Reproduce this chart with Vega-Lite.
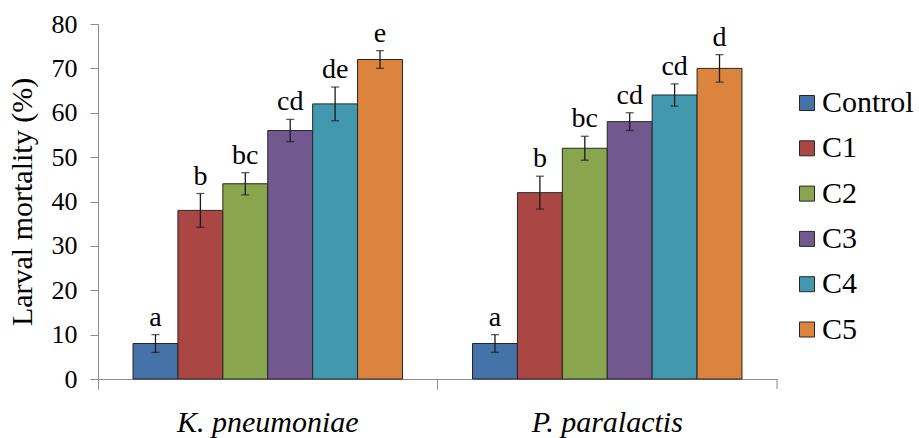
{
  "$schema": "https://vega.github.io/schema/vega-lite/v6.json",
  "width": 679,
  "height": 355,
  "autosize": "none",
  "padding": {"left": 98, "top": 24, "right": 142, "bottom": 59},
  "config": {
    "view": {"stroke": null},
    "font": "Liberation Serif",
    "axis": {"grid": false, "domainColor": "#8c8c8c", "tickColor": "#8c8c8c", "labelColor": "#000000", "titleColor": "#000000", "titleFontWeight": "normal", "labelFont": "Liberation Serif", "titleFont": "Liberation Serif", "labelLimit": 0},
    "legend": {"labelFont": "Liberation Serif", "labelLimit": 0, "padding": 0},
    "text": {"font": "Liberation Serif"}
  },
  "data": {
    "values": [
      {"bacterium": "K. pneumoniae", "treatment": "Control", "mortality": 8, "se": 2, "letter": "a"},
      {"bacterium": "K. pneumoniae", "treatment": "C1", "mortality": 38, "se": 3.8, "letter": "b"},
      {"bacterium": "K. pneumoniae", "treatment": "C2", "mortality": 44, "se": 2.5, "letter": "bc"},
      {"bacterium": "K. pneumoniae", "treatment": "C3", "mortality": 56, "se": 2.5, "letter": "cd"},
      {"bacterium": "K. pneumoniae", "treatment": "C4", "mortality": 62, "se": 3.8, "letter": "de"},
      {"bacterium": "K. pneumoniae", "treatment": "C5", "mortality": 72, "se": 2, "letter": "e"},
      {"bacterium": "P. paralactis", "treatment": "Control", "mortality": 8, "se": 2, "letter": "a"},
      {"bacterium": "P. paralactis", "treatment": "C1", "mortality": 42, "se": 3.7, "letter": "b"},
      {"bacterium": "P. paralactis", "treatment": "C2", "mortality": 52, "se": 2.7, "letter": "bc"},
      {"bacterium": "P. paralactis", "treatment": "C3", "mortality": 58, "se": 2, "letter": "cd"},
      {"bacterium": "P. paralactis", "treatment": "C4", "mortality": 64, "se": 2.5, "letter": "cd"},
      {"bacterium": "P. paralactis", "treatment": "C5", "mortality": 70, "se": 3.1, "letter": "d"}
    ]
  },
  "transform": [
    {"calculate": "datum.mortality - datum.se", "as": "lo"},
    {"calculate": "datum.mortality + datum.se", "as": "hi"}
  ],
  "encoding": {
    "x": {
      "field": "bacterium",
      "type": "nominal",
      "sort": null,
      "scale": {"paddingInner": 0, "paddingOuter": 0},
      "axis": {"title": null, "labelAngle": 0, "labelFontSize": 30, "labelFontStyle": "italic", "tickSize": 10, "bandPosition": 0, "labelPadding": 18}
    }
  },
  "layer": [
    {
      "mark": {"type": "bar", "stroke": "#262626", "strokeWidth": 1},
      "encoding": {
        "xOffset": {"field": "treatment", "type": "nominal", "sort": ["Control", "C1", "C2", "C3", "C4", "C5"], "scale": {"paddingInner": 0, "paddingOuter": 0.78}},
        "y": {
          "field": "mortality",
          "type": "quantitative",
          "scale": {"domain": [0, 80]},
          "axis": {"title": "Larval mortality (%)", "titleFontSize": 30, "labelFontSize": 26, "tickCount": 8, "tickSize": 8, "labelPadding": 13, "titlePadding": 14}
        },
        "color": {
          "field": "treatment",
          "type": "nominal",
          "sort": ["Control", "C1", "C2", "C3", "C4", "C5"],
          "scale": {"domain": ["Control", "C1", "C2", "C3", "C4", "C5"], "range": ["#4572A7", "#AA4643", "#89A54E", "#71588F", "#4198AF", "#DB843D"]},
          "legend": {"title": null, "orient": "none", "legendX": 694, "legendY": 64, "symbolType": "square", "symbolSize": 225, "symbolStrokeColor": "#262626", "symbolStrokeWidth": 1, "symbolOpacity": 1, "labelFontSize": 30, "labelOffset": 0, "rowPadding": 15.3, "labelColor": "#000000"}
        }
      }
    },
    {
      "mark": {"type": "rule", "color": "#1a1a1a", "strokeWidth": 1.3},
      "encoding": {
        "xOffset": {"field": "treatment", "type": "nominal", "sort": ["Control", "C1", "C2", "C3", "C4", "C5"]},
        "y": {"field": "lo", "type": "quantitative"},
        "y2": {"field": "hi"}
      }
    },
    {
      "mark": {"type": "tick", "orient": "horizontal", "size": 8, "thickness": 1.3, "color": "#1a1a1a"},
      "encoding": {
        "xOffset": {"field": "treatment", "type": "nominal", "sort": ["Control", "C1", "C2", "C3", "C4", "C5"]},
        "y": {"field": "lo", "type": "quantitative"}
      }
    },
    {
      "mark": {"type": "tick", "orient": "horizontal", "size": 8, "thickness": 1.3, "color": "#1a1a1a"},
      "encoding": {
        "xOffset": {"field": "treatment", "type": "nominal", "sort": ["Control", "C1", "C2", "C3", "C4", "C5"]},
        "y": {"field": "hi", "type": "quantitative"}
      }
    },
    {
      "mark": {"type": "text", "baseline": "bottom", "dy": -3, "fontSize": 28, "font": "Liberation Serif", "color": "#000000"},
      "encoding": {
        "xOffset": {"field": "treatment", "type": "nominal", "sort": ["Control", "C1", "C2", "C3", "C4", "C5"]},
        "y": {"field": "hi", "type": "quantitative"},
        "text": {"field": "letter"}
      }
    },
    {
      "transform": [{"filter": "datum.bacterium == 'P. paralactis' && datum.treatment == 'Control'"}],
      "mark": {"type": "rule", "color": "#8c8c8c"},
      "encoding": {
        "x": {"field": "bacterium", "type": "nominal", "bandPosition": 1},
        "y": {"datum": 0},
        "y2": {"datum": -2.25}
      }
    }
  ]
}
